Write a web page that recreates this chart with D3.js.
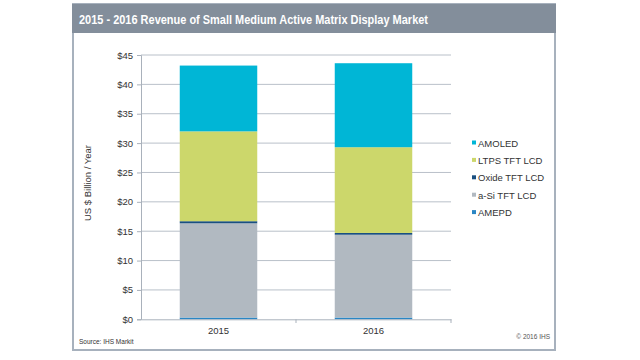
<!DOCTYPE html>
<html><head><meta charset="utf-8">
<script src="https://cdn.jsdelivr.net/npm/d3@7"></script>
<style>body{margin:0;background:#fff}svg{display:block;font-family:"Liberation Sans",Arial,sans-serif}</style>
</head><body><svg id="c" width="640" height="360"></svg>
<script>
const categories = ["2015", "2016"];
const seriesNames = ["AMEPD", "a-Si TFT LCD", "Oxide TFT LCD", "LTPS TFT LCD", "AMOLED"];
const amepd = [0.3, 0.3];
const aSi = [16.05, 14.1];
const oxide = [0.35, 0.3];
const ltps = [15.3, 14.6];
const amoled = [11.2, 14.3];
const yTicks = [0, 5, 10, 15, 20, 25, 30, 35, 40, 45];
const colors = ["#2a86c4", "#b1b9c1", "#1a4f80", "#ccd76b", "#00b6d6"];

const svg = d3.select("#c");
// frame
svg.append("rect").attr("x", 73).attr("y", 4).attr("width", 482).attr("height", 346)
  .attr("fill", "#fff").attr("stroke", "#a7b1bd").attr("stroke-width", 2);
svg.append("rect").attr("x", 72).attr("y", 4).attr("width", 484).attr("height", 29).attr("fill", "#838e9b");
svg.append("text").attr("x", 79).attr("y", 24).attr("fill", "#fff").attr("font-weight", "bold")
  .attr("font-size", 13).attr("textLength", 349).attr("lengthAdjust", "spacingAndGlyphs")
  .text("2015 - 2016 Revenue of Small Medium Active Matrix Display Market");

const x = d3.scaleBand().domain(categories).range([141, 451]).paddingInner(0.5).paddingOuter(0.25);
const y = d3.scaleLinear().domain([0, 45]).range([319.3, 55]);

// gridlines
svg.append("g").selectAll("line").data(yTicks.filter(d => d > 0)).join("line")
  .attr("x1", 141).attr("x2", 451).attr("y1", d => y(d)).attr("y2", d => y(d))
  .attr("stroke", "#b9c0c9").attr("stroke-width", 1);

// stacked data
const table = categories.map((c, i) => ({cat: c, "AMEPD": amepd[i], "a-Si TFT LCD": aSi[i], "Oxide TFT LCD": oxide[i], "LTPS TFT LCD": ltps[i], "AMOLED": amoled[i]}));
const stack = d3.stack().keys(seriesNames)(table);
svg.append("g").selectAll("g").data(stack).join("g").attr("fill", (d, i) => colors[i])
  .selectAll("rect").data(d => d).join("rect")
  .attr("x", d => x(d.data.cat)).attr("width", x.bandwidth())
  .attr("y", d => y(d[1])).attr("height", d => y(d[0]) - y(d[1]));

// y axis
const yAxis = d3.axisLeft(y).tickValues(yTicks).tickFormat(d => "$" + d).tickSize(4).tickPadding(4);
const ga = svg.append("g").attr("transform", "translate(141,0)").call(yAxis);
ga.select(".domain").attr("stroke", "#a9b1bb");
ga.selectAll(".tick line").attr("stroke", "#a9b1bb");
ga.selectAll("text").attr("font-size", 9.5).attr("fill", "#333").attr("font-family", "Liberation Sans, Arial, sans-serif");

// x axis
const xAxis = d3.axisBottom(x).tickSize(0).tickPadding(8);
const gx = svg.append("g").attr("transform", "translate(0,319.3)").call(xAxis);
gx.select(".domain").attr("stroke", "#a9b1bb");
gx.selectAll("text").attr("font-size", 9.5).attr("fill", "#333").attr("font-family", "Liberation Sans, Arial, sans-serif");
svg.append("g").selectAll("line").data([296, 451]).join("line")
  .attr("x1", d => d).attr("x2", d => d).attr("y1", 319.3).attr("y2", 323).attr("stroke", "#a9b1bb");

// y title
svg.append("text").attr("transform", "translate(91,183) rotate(-90)").attr("text-anchor", "middle")
  .attr("font-size", 9.5).attr("fill", "#333").text("US $ Billion / Year");

// legend
const legendItems = seriesNames.slice().reverse();
const lg = svg.append("g").selectAll("g").data(legendItems).join("g")
  .attr("transform", (d, i) => `translate(473,${143 + i * 17.4})`);
lg.append("rect").attr("x", -1).attr("y", -2.5).attr("width", 4).attr("height", 4)
  .attr("fill", d => colors[seriesNames.indexOf(d)]);
lg.append("text").attr("x", 5).attr("y", 3.5).attr("font-size", 9.5).attr("fill", "#333").text(d => d);

// footer
svg.append("text").attr("x", 79).attr("y", 344).attr("font-size", 6.5).attr("fill", "#333").text("Source: IHS Markit");
svg.append("text").attr("x", 550).attr("y", 339).attr("text-anchor", "end").attr("font-size", 6.5).attr("fill", "#555").text("© 2016 IHS");
</script></body></html>
